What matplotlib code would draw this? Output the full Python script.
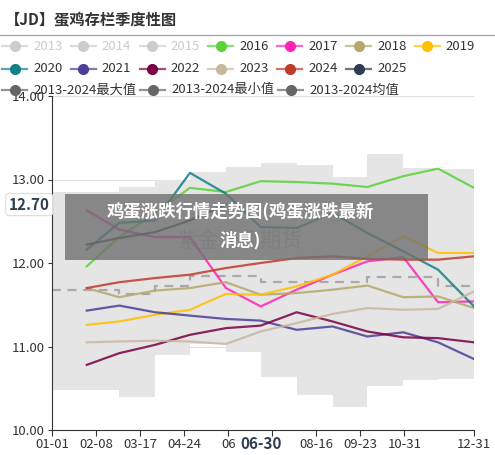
import matplotlib
matplotlib.use("Agg")
import matplotlib.pyplot as plt
from matplotlib.lines import Line2D
import numpy as np

plt.rcParams['font.family'] = ['Noto Sans CJK SC', 'DejaVu Sans']

month_days = [30, 58, 89, 119, 150, 180, 211, 242, 272, 303, 333, 364]
step_edges = [0, 58, 89, 119, 150, 180, 211, 242, 272, 303, 333, 364]
band_max = [12.85, 12.91, 13.0, 13.09, 13.15, 13.2, 13.17, 13.03, 13.30, 13.14, 13.13]
band_min = [10.48, 10.40, 10.90, 11.03, 10.93, 10.63, 10.42, 10.27, 10.53, 10.60, 10.61]
band_mean = [11.68, 11.63, 11.73, 11.85, 11.85, 11.77, 11.77, 11.77, 11.83, 11.83, 11.72]

series = {
    '2016': [11.96, 12.31, 12.60, 12.90, 12.85, 12.98, 12.97, 12.95, 12.91, 13.04, 13.13, 12.90],
    '2017': [12.63, 12.40, 12.31, 12.31, 11.70, 11.48, 11.68, 11.86, 12.02, 12.07, 11.53, 11.54],
    '2018': [11.70, 11.59, 11.67, 11.70, 11.77, 11.62, 11.64, 11.68, 11.73, 11.59, 11.60, 11.46],
    '2019': [11.26, 11.30, 11.38, 11.44, 11.63, 11.62, 11.72, 11.86, 12.08, 12.32, 12.12, 12.12],
    '2020': [12.16, 12.48, 12.51, 13.08, 12.83, 12.43, 12.42, 12.60, 12.36, 12.14, 11.92, 11.48],
    '2021': [11.43, 11.49, 11.41, 11.37, 11.33, 11.31, 11.20, 11.24, 11.12, 11.17, 11.05, 10.85],
    '2022': [10.78, 10.92, 11.02, 11.14, 11.22, 11.25, 11.41, 11.30, 11.18, 11.11, 11.10, 11.05],
    '2023': [11.05, 11.06, 11.07, 11.06, 11.03, 11.18, 11.28, 11.39, 11.46, 11.44, 11.45, 11.66],
    '2024': [11.70, 11.77, 11.82, 11.86, 11.94, 12.00, 12.06, 12.08, 12.05, 12.04, 12.04, 12.08],
    '2025': [12.22, 12.30, 12.37, 12.51, 12.70],
}
colors = {
    '2013': '#cccccc', '2014': '#cccccc', '2015': '#cccccc',
    '2016': '#5cd13a', '2017': '#ff24b4', '2018': '#b5a86b', '2019': '#ffc000',
    '2020': '#10808a', '2021': '#4e3d96', '2022': '#7a0045', '2023': '#c8b8a0',
    '2024': '#c0392b', '2025': '#2c3e50',
}
tick_days = [0, 38, 76, 114, 152, 190, 228, 266, 304, 364]
tick_labels = ['01-01', '02-08', '03-17', '04-24', '06', '', '08-16', '09-23', '10-31', '12-31']

fig = plt.figure(figsize=(4.95, 4.55), dpi=100)
ax = fig.add_axes([52/495, 25/455, 422/495, 334/455])

ymax_s = band_max + [band_max[-1]]
ymin_s = band_min + [band_min[-1]]
ymean_s = band_mean + [band_mean[-1]]
ax.fill_between(step_edges, ymin_s, ymax_s, step='post', color='#e5e5e5', lw=0, zorder=1)
ax.step(step_edges, ymean_s, where='post', color='#aaaaaa', lw=1.6, ls=(0, (4, 3)), zorder=2)

for name, vals in series.items():
    ax.plot(month_days[:len(vals)], vals, color=colors[name], lw=1.6, alpha=0.85, zorder=3)

ax.set_xlim(0, 364)
ax.set_ylim(10, 14)
ax.set_yticks([10, 11, 12, 13, 14])
ax.set_yticklabels(['10.00', '11.00', '12.00', '13.00', '14.00'])
ax.set_xticks(tick_days)
ax.set_xticklabels(tick_labels)
ax.grid(axis='y', color='#e0e0e0', lw=0.8, zorder=0)
ax.set_axisbelow(True)
for s in ['top', 'right']:
    ax.spines[s].set_visible(False)
ax.spines['left'].set_color('#333333')
ax.spines['bottom'].set_color('#333333')
ax.tick_params(axis='y', length=3, labelsize=9.5, colors='#333333', pad=2)
ax.tick_params(axis='x', length=4, labelsize=9.5, colors='#333333', pad=2)

ax.text(180, 9.93, '06-30', ha='center', va='top', fontsize=11, fontweight='bold', color='#2c3e50')
ax.text(-2, 12.70, '12.70', ha='right', va='center', fontsize=11, fontweight='bold', color='#2c3e50',
        bbox=dict(boxstyle='round,pad=0.2', fc='white', ec='#dddddd', lw=0.8))

# watermark and overlay
fig.text(240/495, 1 - 241/455, '紫金天风期货', fontsize=15, color='#999999', alpha=0.6, ha='center', va='center')
fig.patches.append(plt.Rectangle((65/495, 1 - 260/455), 363/495, 66/455, transform=fig.transFigure,
                                 fc='#707070', alpha=0.8, zorder=10))
fig.text(240/495, 1 - 211/455, '鸡蛋涨跌行情走势图(鸡蛋涨跌最新', fontsize=12.5, fontweight='bold', color='white',
         ha='center', va='center', zorder=11)
fig.text(240/495, 1 - 240/455, '消息)', fontsize=12.5, fontweight='bold', color='white',
         ha='center', va='center', zorder=11)

# title
fig.text(5/495, 1 - 20/455, '【JD】蛋鸡存栏季度性图', fontsize=11, fontweight='bold', color='#333333', va='center')
fig.add_artist(Line2D([0, 1], [1 - 35/455, 1 - 35/455], color='#aaaaaa', lw=1, transform=fig.transFigure))

# legend
def leg(xpx, ypx, label, col, tcol):
    y = 1 - ypx/455
    fig.add_artist(Line2D([xpx/495, (xpx+25)/495], [y, y], color=col, lw=1.6, alpha=0.7, transform=fig.transFigure))
    fig.add_artist(Line2D([(xpx+12.5)/495], [y], marker='o', ms=7, color=col, transform=fig.transFigure))
    fig.text((xpx+31)/495, y, label, fontsize=9.5, color=tcol, va='center')

row1 = ['2013', '2014', '2015', '2016', '2017', '2018', '2019']
for i, n in enumerate(row1):
    leg(2 + i*68.8, 46, n, colors[n], '#cccccc' if n in ('2013', '2014', '2015') else '#333333')
row2 = ['2020', '2021', '2022', '2023', '2024', '2025']
for i, n in enumerate(row2):
    leg(2 + i*68.8, 69, n, colors[n], '#333333')
for i, n in enumerate(['2013-2024最大值', '2013-2024最小值', '2013-2024均值']):
    leg(2 + i*138, 90, n, '#666666', '#333333')

fig.savefig('out.png', dpi=100)
